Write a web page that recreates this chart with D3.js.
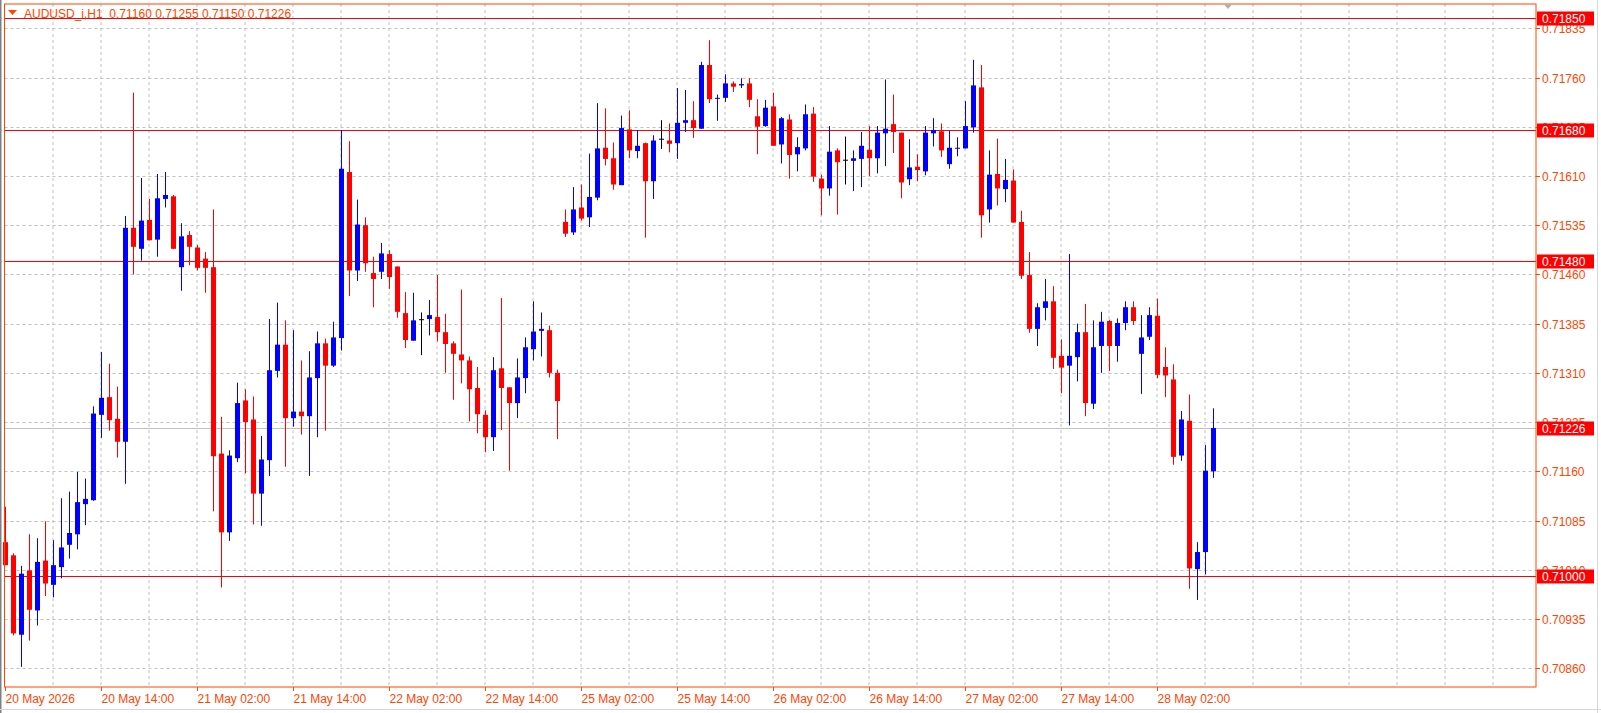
<!DOCTYPE html>
<html><head><meta charset="utf-8">
<script src="https://cdn.jsdelivr.net/npm/d3@7"></script>
<style>body{margin:0;background:#fff}svg{display:block}text{font-family:"Liberation Sans",Arial,sans-serif;font-size:12px}</style>
</head><body><svg id="c" width="1601" height="713"></svg>
<script>
// prices in units of 0.00001
const openP=[71052,71032,70911,71009,70948,71024,70987,71014,71048,71064,71110,71116,71246,71273,71240,71205,71531,71499,71543,71513,71575,71579,71471,71520,71501,71484,71471,71187,71067,71180,71268,71239,71126,71177,71313,71353,71241,71251,71244,71302,71355,71321,71363,71616,71466,71535,71462,71464,71491,71472,71401,71359,71391,71392,71395,71372,71355,71338,71329,71287,71246,71212,71317,71288,71264,71302,71346,71374,71375,71310,71540,71524,71562,71547,71577,71653,71637,71596,71681,71648,71660,71602,71666,71664,71660,71691,71695,71682,71779,71728,71729,71751,71748,71751,71701,71686,71716,71658,71696,71643,71652,71705,71606,71591,71649,71634,71633,71636,71650,71637,71675,71689,71676,71605,71624,71617,71675,71678,71628,71652,71652,71684,71745,71559,71613,71590,71603,71540,71459,71377,71409,71419,71336,71321,71334,71372,71263,71351,71389,71351,71386,71410,71339,71365,71397,71319,71300,71184,71237,71011,71037,71160];
const highP=[71106,71035,71016,71064,71058,71084,71055,71119,71129,71159,71149,71259,71342,71324,71289,71549,71737,71607,71575,71613,71616,71581,71538,71526,71505,71494,71559,71243,71192,71295,71285,71274,71214,71392,71417,71390,71375,71329,71343,71373,71362,71388,71680,71663,71574,71547,71487,71508,71497,71472,71433,71432,71402,71421,71459,71400,71358,71437,71335,71319,71253,71334,71424,71288,71332,71364,71419,71402,71382,71315,71559,71593,71597,71644,71721,71713,71661,71702,71710,71680,71661,71672,71695,71690,71744,71741,71724,71784,71817,71734,71765,71754,71759,71759,71727,71726,71737,71700,71704,71669,71719,71715,71612,71686,71652,71670,71649,71677,71686,71686,71757,71734,71676,71666,71643,71686,71698,71690,71679,71669,71724,71787,71779,71649,71667,71636,71620,71557,71494,71416,71453,71442,71361,71491,71385,71415,71390,71403,71391,71393,71419,71419,71398,71410,71423,71349,71323,71252,71277,71052,71200,71256];
const lowP=[71017,70910,70862,70902,70925,70970,70968,70997,71027,71041,71078,71115,71211,71222,71181,71141,71460,71481,71512,71487,71562,71499,71435,71474,71466,71432,71099,70983,71054,71174,71157,71079,71077,71153,71303,71167,71228,71216,71153,71212,71222,71319,71344,71427,71450,71464,71410,71453,71438,71394,71348,71359,71337,71367,71358,71310,71269,71294,71236,71218,71189,71191,71223,71161,71241,71279,71329,71335,71303,71209,71517,71520,71542,71532,71573,71626,71589,71596,71637,71637,71516,71575,71651,71646,71636,71677,71668,71682,71721,71694,71723,71738,71744,71715,71643,71685,71656,71629,71606,71617,71649,71601,71550,71580,71551,71597,71587,71593,71610,71614,71625,71645,71576,71596,71602,71611,71655,71639,71621,71640,71652,71676,71516,71539,71565,71570,71539,71453,71371,71351,71390,71316,71279,71230,71297,71244,71255,71310,71313,71327,71375,71383,71278,71360,71302,71273,71170,71176,70981,70964,71003,71150];
const closeP=[71017,70913,71004,70949,71022,70989,71017,71044,71066,71113,71118,71248,71272,71238,71205,71531,71502,71542,71512,71576,71581,71499,71518,71502,71470,71470,71183,71067,71184,71264,71235,71126,71178,71314,71353,71241,71251,71244,71303,71355,71321,71364,71621,71466,71536,71477,71453,71492,71456,71403,71360,71390,71391,71398,71372,71354,71339,71329,71285,71247,71212,71314,71287,71264,71303,71349,71373,71377,71310,71267,71522,71559,71545,71578,71652,71636,71597,71683,71649,71656,71602,71664,71666,71659,71691,71695,71683,71779,71727,71729,71751,71746,71750,71726,71685,71714,71656,71698,71642,71654,71704,71609,71591,71647,71631,71634,71637,71656,71637,71676,71682,71677,71600,71623,71619,71676,71680,71649,71653,71653,71686,71748,71550,71612,71591,71604,71539,71458,71377,71410,71419,71333,71318,71336,71372,71264,71349,71388,71351,71386,71410,71389,71364,71398,71307,71306,71182,71239,71012,71037,71161,71226];
const priceTicks=["0.71835","0.71760","0.71685","0.71610","0.71535","0.71460","0.71385","0.71310","0.71235","0.71160","0.71085","0.71010","0.70935","0.70860"];
const levelLines=["0.71850","0.71680","0.71480","0.71000"];
const bidLine="0.71226";
const timeIdx=[0,12,24,36,48,60,72,84,96,108,120,132,144];
const timeLabels=["20 May 2026","20 May 14:00","21 May 02:00","21 May 14:00","22 May 02:00","22 May 14:00","25 May 02:00","25 May 14:00","26 May 02:00","26 May 14:00","27 May 02:00","27 May 14:00","28 May 02:00"];
const header="AUDUSD_i,H1  0.71160 0.71255 0.71150 0.71226";

const svg=d3.select("#c");
const L=4.5,R=1536,T=4,B=687;
const OR="#ff4500";
const y=d3.scaleLinear().domain([0.71835,0.70860]).range([28.3,668.2]);
const x=d3.scaleLinear().domain([0,151]).range([5,1213]);
const P=v=>v/1e5;
// left outer lines
svg.append("rect").attr("x",0).attr("y",0).attr("width",1.5).attr("height",713).attr("fill","#808080");
svg.append("line").attr("x1",1597.5).attr("x2",1597.5).attr("y1",0).attr("y2",713).attr("stroke","#d8d8d8");
svg.append("line").attr("x1",0).attr("x2",1601).attr("y1",709.5).attr("y2",709.5).attr("stroke","#d8d8d8");
const g=svg.append("g");
// grid
for(let gx=x(0)+48;gx<R;gx+=48) g.append("line").attr("x1",gx).attr("x2",gx).attr("y1",T).attr("y2",B).attr("stroke","#c0c0c0").attr("stroke-dasharray","3,3");
priceTicks.forEach(t=>{const yy=Math.round(y(+t))+0.5;g.append("line").attr("x1",L).attr("x2",R).attr("y1",yy).attr("y2",yy).attr("stroke","#c0c0c0").attr("stroke-dasharray","3,3");});
// bid line
const by=Math.round(y(+bidLine))+0.5;
g.append("line").attr("x1",L).attr("x2",R).attr("y1",by).attr("y2",by).attr("stroke","#c0c0c0");
// level lines
levelLines.forEach(t=>{const yy=Math.round(y(+t))+0.5;g.append("line").attr("x1",L).attr("x2",R).attr("y1",yy).attr("y2",yy).attr("stroke","#ff0000");});
// candles
const cg=svg.append("g");
openP.forEach((o,i)=>{
  const c=closeP[i],h=highP[i],l=lowP[i];
  const col=c>o?"#0000ff":(c<o?"#ff0000":"#000000");
  const cx=Math.round(x(i))+0.5;
  cg.append("line").attr("x1",cx).attr("x2",cx).attr("y1",y(P(h))).attr("y2",y(P(l))).attr("stroke",col);
  const y1=y(P(Math.max(o,c))),y2=y(P(Math.min(o,c)));
  if(o===c) cg.append("line").attr("x1",cx-2.5).attr("x2",cx+2.5).attr("y1",y1).attr("y2",y1).attr("stroke",col);
  else cg.append("rect").attr("x",cx-2.5).attr("y",y1).attr("width",5).attr("height",Math.max(1,y2-y1)).attr("fill",col);
});
// frame
svg.append("rect").attr("x",L).attr("y",T).attr("width",R-L).attr("height",B-T).attr("fill","none").attr("stroke",OR);
// shift marker
svg.append("path").attr("d","M1224,4.5L1232,4.5L1228,9Z").attr("fill","#b0b0b0");
// price axis
priceTicks.forEach(t=>{const yy=Math.round(y(+t))+0.5;
  svg.append("line").attr("x1",R).attr("x2",R+4).attr("y1",yy).attr("y2",yy).attr("stroke",OR);
  svg.append("text").attr("x",1542).attr("y",yy+4.5).attr("fill",OR).text(t);});
function box(t,fill){const yy=Math.round(y(+t))+0.5;
  svg.append("rect").attr("x",R+1).attr("y",yy-7).attr("width",57).attr("height",14).attr("fill",fill);
  svg.append("text").attr("x",1542).attr("y",yy+4.5).attr("fill","#fff").text(t);}
levelLines.forEach(t=>box(t,"#ff0000"));
box(bidLine,"#ff0000");
// time axis
timeIdx.forEach((ti,k)=>{const tx=Math.round(x(ti))+0.5;
  svg.append("line").attr("x1",tx).attr("x2",tx).attr("y1",B).attr("y2",B+4).attr("stroke",OR);
  svg.append("text").attr("x",tx).attr("y",703).attr("fill",OR).text(timeLabels[k]);});
// header
svg.append("path").attr("d","M8,10L17,10L12.5,15Z").attr("fill",OR);
svg.append("text").attr("x",24).attr("y",18).attr("fill",OR).attr("xml:space","preserve").style("white-space","pre").text(header);
</script></body></html>
